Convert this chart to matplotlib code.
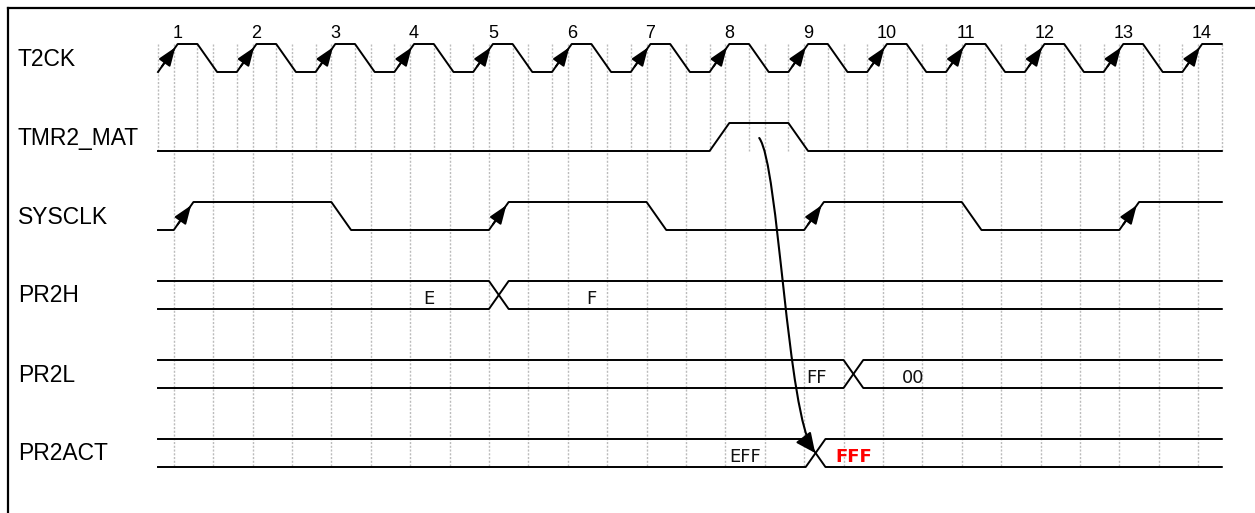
import numpy as np
import matplotlib.pyplot as plt
from matplotlib.path import Path
from matplotlib.patches import FancyArrowPatch

# signal names, top to bottom
names = ['T2CK', 'TMR2_MAT', 'SYSCLK', 'PR2H', 'PR2L', 'PR2ACT']

# time axis in T2CK periods, edges start at these times
t_end = 13.5
slew = 0.25
clk_rise = [0, 1, 2, 3, 4, 5, 6, 7, 8, 9, 10, 11, 12, 13]
clk_fall = [0.5, 1.5, 2.5, 3.5, 4.5, 5.5, 6.5, 7.5, 8.5, 9.5, 10.5, 11.5, 12.5]
clk_labels = ['1', '2', '3', '4', '5', '6', '7', '8', '9', '10', '11', '12', '13', '14']

mat_rise = [7.0]
mat_fall = [8.0]

sys_rise = [0.2, 4.2, 8.2, 12.2]
sys_fall = [2.2, 6.2, 10.2]

# bus rows: crossing time, values and where they are written
pr2h_cross = 4.2
pr2h_vals = ['E', 'F']
pr2h_pos = [3.44, 5.5]

pr2l_cross = 8.7
pr2l_vals = ['FF', '00']
pr2l_pos = [8.36, 9.58]

pr2act_cross = 8.22
pr2act_vals = ['EFF', 'FFF']
pr2act_pos = [7.45, 8.83]

# layout (pixels)
W, H = 1255, 513
x0_px, per_px = 158, 78.8
row0, pitch, half = 58, 79, 14


def row_y(i):
    return row0 + pitch * i


def wave(low_start, rises, falls):
    edges = sorted([(t, 1) for t in rises] + [(t, 0) for t in falls])
    lvl = 0 if low_start else 1
    xs, ys = [0], [lvl]
    for t, new in edges:
        xs += [t, t + slew]
        ys += [lvl, new]
        lvl = new
    xs.append(t_end)
    ys.append(lvl)
    return np.array(xs), np.array(ys)


fig = plt.figure(figsize=(W / 100, H / 100), dpi=100)
ax = fig.add_axes([0, 0, 1, 1])
ax.set_xlim(-x0_px / per_px, (W - x0_px) / per_px)
ax.set_ylim(H, 0)
ax.axis('off')

grid_kw = dict(color='#bcbcbc', lw=1.0, ls=(0, (1.5, 1.2)), zorder=1)
gA = np.arange(0, t_end + 0.01, 0.5)
ax.vlines(gA, row_y(0) - half, row_y(1) + half, **grid_kw)
gB = np.arange(0.2, t_end, 0.5)
ax.vlines(gB, row_y(0) - half, row_y(5) + half, **grid_kw)

lw = 1.4
# clocks and single-bit signals
sigs = [wave(True, clk_rise, clk_fall), wave(True, mat_rise, mat_fall),
        wave(True, sys_rise, sys_fall)]
for i, (xs, ys) in enumerate(sigs):
    ax.plot(xs, row_y(i) + half - 2 * half * ys, color='black', lw=lw, zorder=3)


# arrows on rising edges
def edge_arrows(times, i):
    for t in times:
        y_lo, y_hi = row_y(i) + half, row_y(i) - half
        ax.annotate('', xy=(t + slew * 0.88, y_lo + (y_hi - y_lo) * 0.88),
                    xytext=(t + slew * 0.2, y_lo + (y_hi - y_lo) * 0.2),
                    arrowprops=dict(arrowstyle='-|>,head_length=0.8,head_width=0.3',
                                    mutation_scale=14, color='black', lw=lw,
                                    shrinkA=0, shrinkB=0), zorder=4)


edge_arrows(clk_rise, 0)
edge_arrows(sys_rise, 2)

for k, t in enumerate(clk_rise):
    ax.text(t + slew, row_y(0) - half - 11, clk_labels[k], ha='center', va='center',
            fontsize=13, family='Liberation Sans')

# buses
buses = [(pr2h_cross, pr2h_vals, pr2h_pos), (pr2l_cross, pr2l_vals, pr2l_pos),
         (pr2act_cross, pr2act_vals, pr2act_pos)]
for j, (tc, vals, pos) in enumerate(buses):
    i = j + 3
    top, bot = row_y(i) - half, row_y(i) + half
    ax.plot([0, tc, tc + slew, t_end], [top, top, bot, bot], color='black', lw=lw, zorder=3)
    ax.plot([0, tc, tc + slew, t_end], [bot, bot, top, top], color='black', lw=lw, zorder=3)
    for k, (v, p) in enumerate(zip(vals, pos)):
        red = (i == 5 and k == 1)
        ax.text(p, row_y(i) + 4, v, ha='center', va='center', fontsize=13,
                family='DejaVu Sans', color='red' if red else '#111111',
                fontweight='bold' if red else 'normal', zorder=5)

# signal names
for i, n in enumerate(names):
    ax.text((18 - x0_px) / per_px, row_y(i) + 1, n, ha='left', va='center',
            fontsize=16.5, family='Liberation Sans')

# causal arrow TMR2_MAT -> PR2ACT
verts = [(7.63, 138), (7.88, 165), (7.98, 415), (8.34, row_y(5))]
path = Path(verts, [Path.MOVETO, Path.CURVE4, Path.CURVE4, Path.CURVE4])
ax.add_patch(FancyArrowPatch(path=path, arrowstyle='-|>,head_length=0.6,head_width=0.28',
                             mutation_scale=20, color='black', lw=1.5, zorder=6))

# frame (top and left edges)
ax.plot([8 / W, 1], [1 - 8 / H, 1 - 8 / H], transform=ax.transAxes, color='black', lw=1.6)
ax.plot([8 / W, 8 / W], [0, 1 - 8 / H], transform=ax.transAxes, color='black', lw=1.6)

fig.savefig('out.png', dpi=100)
